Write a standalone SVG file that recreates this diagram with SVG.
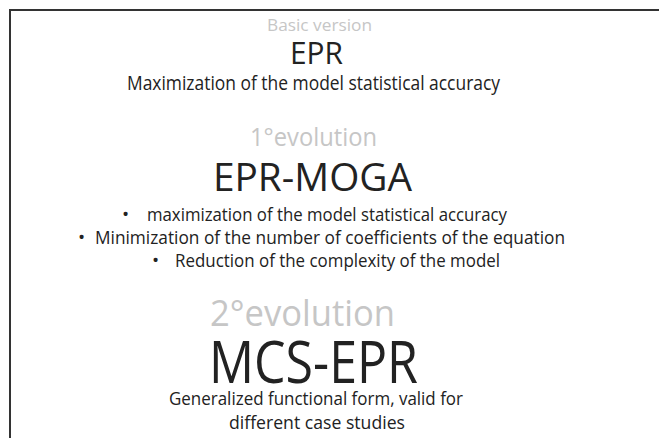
<svg xmlns="http://www.w3.org/2000/svg" width="659" height="438" viewBox="0 0 659 438">
<style>
text{font-family:"Open Sans","Liberation Sans",sans-serif;}
.g{fill:#c6c6c6;}
.d{fill:#222;}
</style>
<rect width="659" height="438" fill="#fff"/>
<g id="frame" fill="none" stroke="#333" stroke-width="2">
<path d="M10 438 V10 H659"/>
</g>
<g id="basic">
<text class="g" x="267" y="31" font-size="17" textLength="105" lengthAdjust="spacingAndGlyphs">Basic version</text>
<text class="d" x="290" y="64" font-size="31" textLength="53" lengthAdjust="spacingAndGlyphs">EPR</text>
<text class="d" x="127" y="90" font-size="20" textLength="373" lengthAdjust="spacingAndGlyphs">Maximization of the model statistical accuracy</text>
</g>
<g id="evolution1">
<text class="g" x="250" y="146" font-size="25" textLength="127" lengthAdjust="spacingAndGlyphs">1°evolution</text>
<text class="d" x="213" y="191" font-size="39" textLength="199" lengthAdjust="spacingAndGlyphs">EPR-MOGA</text>
<text class="d" x="122" y="221" font-size="19">•</text>
<text class="d" x="147" y="221" font-size="19" textLength="360" lengthAdjust="spacingAndGlyphs">maximization of the model statistical accuracy</text>
<text class="d" x="78" y="244" font-size="19">•</text>
<text class="d" x="95" y="244" font-size="19" textLength="470" lengthAdjust="spacingAndGlyphs">Minimization of the number of coefficients of the equation</text>
<text class="d" x="152" y="267" font-size="19">•</text>
<text class="d" x="175" y="267" font-size="19" textLength="325" lengthAdjust="spacingAndGlyphs">Reduction of the complexity of the model</text>
</g>
<g id="evolution2">
<text class="g" x="210" y="326" font-size="37" textLength="185" lengthAdjust="spacingAndGlyphs">2°evolution</text>
<text class="d" x="209" y="383" font-size="58" textLength="209" lengthAdjust="spacingAndGlyphs">MCS-EPR</text>
<text class="d" x="169" y="405" font-size="19" textLength="294" lengthAdjust="spacingAndGlyphs">Generalized functional form, valid for</text>
<text class="d" x="229" y="429" font-size="19" textLength="176" lengthAdjust="spacingAndGlyphs">different case studies</text>
</g>
</svg>
